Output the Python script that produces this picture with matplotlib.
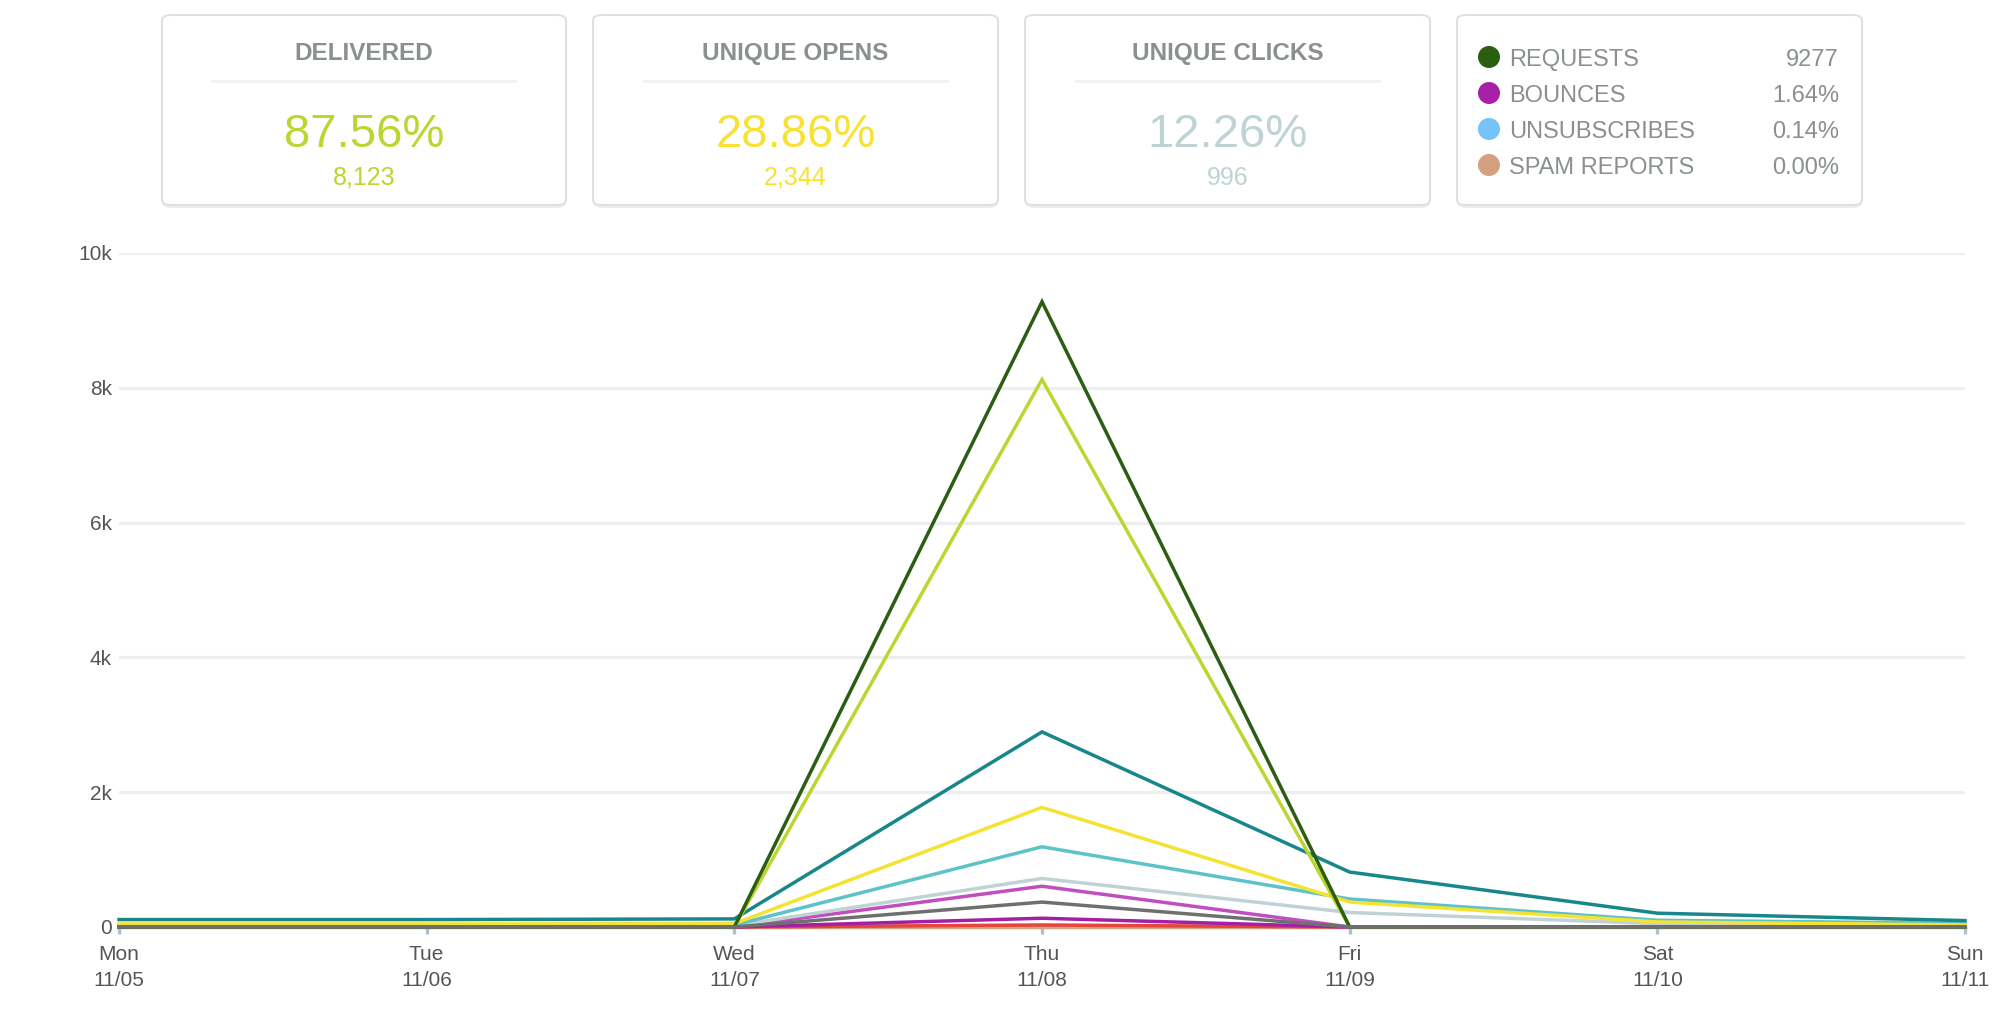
import matplotlib
matplotlib.use("Agg")
import matplotlib.pyplot as plt
from matplotlib.patches import FancyBboxPatch, Circle
from matplotlib.lines import Line2D

plt.rcParams['font.family'] = ['Liberation Sans', 'DejaVu Sans']

# ---------------- data ----------------
days = ["Mon", "Tue", "Wed", "Thu", "Fri", "Sat", "Sun"]
dates = ["11/05", "11/06", "11/07", "11/08", "11/09", "11/10", "11/11"]

spam_reports = [0, 0, 0, 0, 0, 0, 0]
drops = [0, 0, 0, 30, 0, 0, 0]
bounces = [0, 0, 0, 130, 0, 0, 0]
blocks = [0, 0, 0, 370, 0, 0, 0]
spam_bounces = [0, 0, 0, 605, 0, 0, 0]
unique_clicks = [15, 15, 20, 720, 215, 50, 25]
clicks = [25, 25, 30, 1190, 415, 100, 55]
unique_opens = [45, 45, 50, 1775, 370, 75, 30]
opens = [110, 110, 120, 2895, 815, 205, 95]
delivered = [0, 0, 0, 8123, 0, 0, 0]
requests = [0, 0, 0, 9277, 0, 0, 0]

# (name, values, colour, z-order)
series = [
    ("Spam Reports", spam_reports, "#d6a283", 2),
    ("Drops", drops, "#e2463c", 3),
    ("Bounces", bounces, "#a51ea5", 4),
    ("Spam Bounces", spam_bounces, "#c24dc0", 5),
    ("Unique Clicks", unique_clicks, "#bfd3d4", 6),
    ("Clicks", clicks, "#5ec2c9", 7),
    ("Unique Opens", unique_opens, "#f6e232", 8),
    ("Opens", opens, "#17878b", 9),
    ("Delivered", delivered, "#bcd631", 10),
    ("Requests", requests, "#2b5e12", 11),
    ("Blocks", blocks, "#6f6f6f", 12),
]

card_titles = ["DELIVERED", "UNIQUE OPENS", "UNIQUE CLICKS"]
card_pcts = ["87.56%", "28.86%", "12.26%"]
card_counts = ["8,123", "2,344", "996"]
card_colors = ["#bcd631", "#f7e233", "#bfd3d4"]

legend_labels = ["REQUESTS", "BOUNCES", "UNSUBSCRIBES", "SPAM REPORTS"]
legend_values = ["9277", "1.64%", "0.14%", "0.00%"]
legend_colors = ["#2a5e10", "#a81fa8", "#74c4f8", "#d4a080"]

yticks = [0, 2000, 4000, 6000, 8000, 10000]
ytick_labels = ["0", "2k", "4k", "6k", "8k", "10k"]

# ---------------- figure ----------------
W, H = 2014, 1010
DPI = 100
fig = plt.figure(figsize=(W / DPI, H / DPI), dpi=DPI)
fig.patch.set_facecolor("white")


def fx(px):
    return px / W


def fy(py):
    return 1 - py / H


# axes: Mon at x=119, Sun at x=1965; y=0 at 927, 10k at 253
ax = fig.add_axes([fx(119), fy(927), fx(1965) - fx(119), fy(253) - fy(927)])
ax.set_xlim(0, 6)
ax.set_ylim(0, 10000)
x = list(range(len(days)))

for yt in yticks[1:]:
    ax.axhline(yt, color="#eeeeee", lw=2.4, zorder=0)

for name, vals, col, z in series:
    ax.plot(x, vals, color=col, lw=2.5, solid_joinstyle="miter",
            zorder=z, clip_on=False, label=name)

for s in ax.spines.values():
    s.set_visible(False)

ax.set_yticks(yticks)
ax.set_yticklabels(ytick_labels)
ax.set_xticks(x)
ax.set_xticklabels([f"{d}\n{dt}" for d, dt in zip(days, dates)], linespacing=1.45)
ax.tick_params(axis="y", length=0, pad=5, labelsize=15, labelcolor="#555555")
ax.tick_params(axis="x", length=5, width=2.4, color="#b0c0d4", pad=8,
               labelsize=15, labelcolor="#555555")

# ---------------- cards ----------------
def card(x0, y0, x1, y1):
    sh = FancyBboxPatch((fx(x0), fy(y1 + 3)), fx(x1) - fx(x0), fy(y0) - fy(y1),
                        boxstyle="round,pad=0,rounding_size=0.005",
                        transform=fig.transFigure, facecolor="#ededed",
                        edgecolor="none", zorder=1)
    fig.add_artist(sh)
    c = FancyBboxPatch((fx(x0), fy(y1)), fx(x1) - fx(x0), fy(y0) - fy(y1),
                       boxstyle="round,pad=0,rounding_size=0.005",
                       transform=fig.transFigure, facecolor="white",
                       edgecolor="#e0e0e0", lw=1.4, zorder=2)
    fig.add_artist(c)


card_boxes = [(162, 15, 566, 205), (593, 15, 998, 205), (1025, 15, 1430, 205)]
for (x0, y0, x1, y1), t, p, n, col in zip(card_boxes, card_titles, card_pcts,
                                          card_counts, card_colors):
    card(x0, y0, x1, y1)
    cx = (x0 + x1) / 2
    fig.text(fx(cx), fy(60), t, ha="center", va="baseline", fontsize=17.5,
             fontweight="bold", color="#8a8f8f", zorder=3)
    fig.add_artist(Line2D([fx(x0 + 50), fx(x1 - 50)], [fy(81), fy(81)],
                          transform=fig.transFigure, color="#f2f2f2", lw=2,
                          zorder=3))
    fig.text(fx(cx), fy(147), p, ha="center", va="baseline", fontsize=34,
             color=col, zorder=3)
    fig.text(fx(cx), fy(185), n, ha="center", va="baseline", fontsize=18,
             color=col, zorder=3)

# legend card
card(1457, 15, 1862, 205)
rows_y = [57, 93, 129, 165]
for ry, lab, val, col in zip(rows_y, legend_labels, legend_values, legend_colors):
    fig.add_artist(Circle((1489 / DPI, (H - ry) / DPI), radius=11 / DPI,
                          transform=fig.dpi_scale_trans, facecolor=col,
                          edgecolor="none", zorder=3))
    fig.text(fx(1509), fy(ry + 8.5), lab, ha="left", va="baseline", fontsize=17,
             color="#8a8f8f", zorder=3)
    fig.text(fx(1839), fy(ry + 8.5), val, ha="right", va="baseline", fontsize=17,
             color="#8a8f8f", zorder=3)

fig.savefig("out.png", dpi=DPI, facecolor="white")
